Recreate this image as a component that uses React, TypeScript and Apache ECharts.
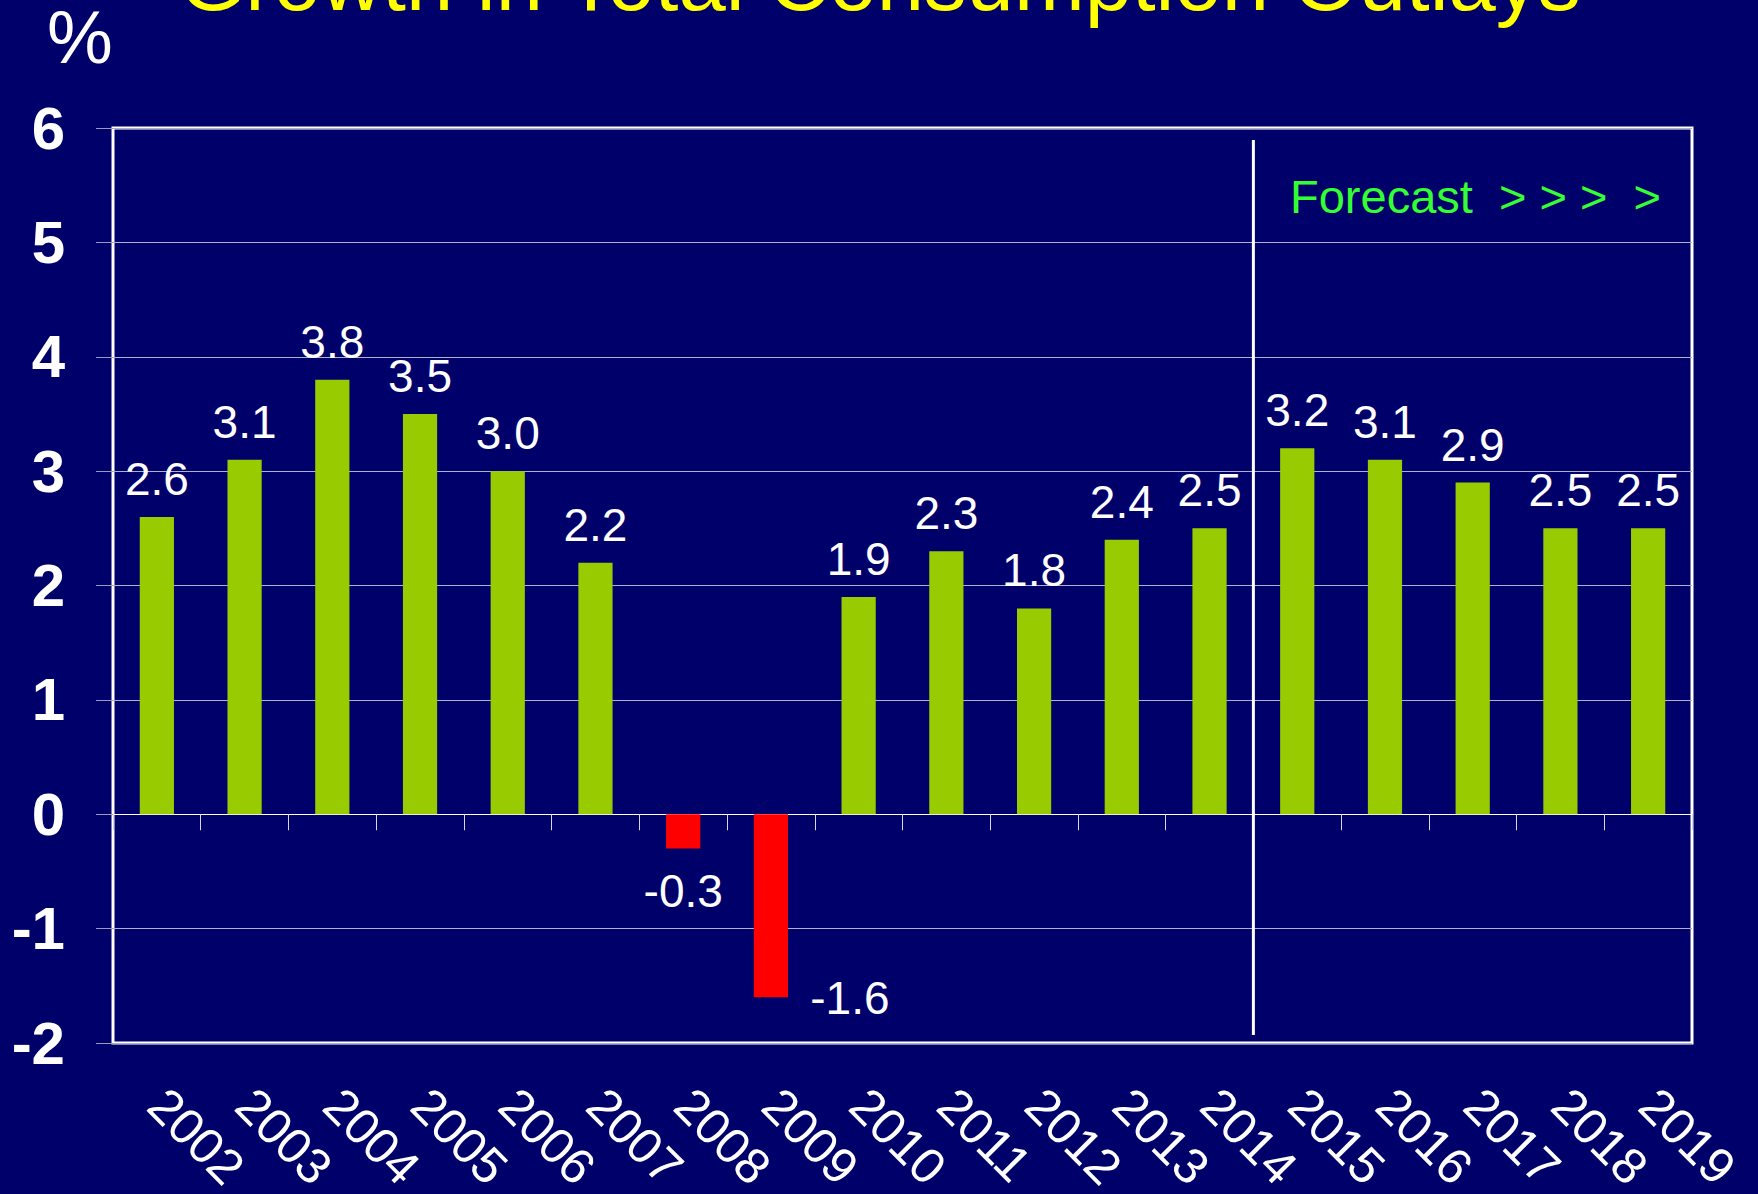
import React, { useEffect, useRef } from "react";
import * as echarts from "echarts";

const years = ["2002","2003","2004","2005","2006","2007","2008","2009","2010","2011","2012","2013","2014","2015","2016","2017","2018","2019"];
const growth = [2.6, 3.1, 3.8, 3.5, 3.0, 2.2, -0.3, -1.6, 1.9, 2.3, 1.8, 2.4, 2.5, 3.2, 3.1, 2.9, 2.5, 2.5];
const forecastStartIndex = 13;
const titleText = "Growth in Total Consumption Outlays";
const unitText = "%";
const forecastText = "Forecast  > > >  >";

const W = 1758;
const H = 1194;
const FONT = "'Liberation Sans', Arial, Helvetica, sans-serif";
const BG = "#00006b";
const GREEN = "#99cc00";
const RED = "#ff0000";

const GRID = { left: 113, top: 128, right: 66, bottom: 151 };

export default function App() {
  const ref = useRef<HTMLDivElement>(null);
  useEffect(() => {
    if (!ref.current) return;
    const chart = echarts.init(ref.current, null, { renderer: "svg", width: W, height: H });
    const plotW = W - GRID.left - GRID.right;
    const dividerX = GRID.left + (forecastStartIndex * plotW) / years.length;

    const data = growth.map((v, i) => {
      const item: any = {
        value: v,
        itemStyle: { color: v < 0 ? RED : GREEN },
      };
      if (v < 0) {
        item.label = i === 7
          ? { position: "inside", offset: [79, 92] }
          : { position: "inside", offset: [0, 60] };
      }
      return item;
    });

    chart.setOption({
      animation: false,
      backgroundColor: BG,
      grid: {
        ...GRID,
        show: true,
        borderColor: "#ffffff",
        borderWidth: 3,
        backgroundColor: "transparent",
        containLabel: false,
        outerBoundsMode: "none",
      },
      xAxis: [
        {
          type: "category",
          data: years,
          position: "bottom",
          axisLine: { show: true, onZero: true, lineStyle: { color: "#ffffff", width: 1 } },
          axisTick: { show: true, length: 16, lineStyle: { color: "#d8d8e8", width: 1 } },
          axisLabel: { show: false },
          splitLine: { show: false },
        },
        {
          type: "category",
          data: years,
          position: "bottom",
          axisLine: { show: false, onZero: false },
          axisTick: { show: false },
          axisLabel: {
            show: true,
            interval: 0,
            rotate: -45,
            margin: 54,
            color: "#ffffff",
            fontSize: 50,
            lineHeight: 40,
            fontFamily: FONT,
          },
          splitLine: { show: false },
        },
      ],
      yAxis: {
        type: "value",
        min: -2,
        max: 6,
        interval: 1,
        axisLine: { show: false },
        axisTick: { show: true, length: 17, lineStyle: { color: "#9a9abf", width: 1 } },
        splitLine: { show: true, lineStyle: { color: "#b0b0c8", width: 1 } },
        axisLabel: {
          color: "#ffffff",
          fontSize: 60,
          fontWeight: "bold",
          fontFamily: FONT,
          margin: 48,
        },
      },
      series: [
        {
          type: "bar",
          xAxisIndex: 0,
          data,
          barWidth: "39%",
          label: {
            show: true,
            position: "top",
            distance: 15,
            color: "#ffffff",
            fontSize: 46,
            fontFamily: FONT,
            formatter: (p: any) => Number(p.value).toFixed(1),
          },
        },
      ],
      graphic: [
        {
          type: "text",
          x: 880,
          y: -20,
          style: {
            text: titleText,
            fill: "#ffff00",
            font: `85px ${FONT}`,
            align: "center",
            verticalAlign: "middle",
          },
        },
        {
          type: "text",
          x: 80,
          y: 37,
          style: {
            text: unitText,
            fill: "#ffffff",
            font: `74px ${FONT}`,
            lineHeight: 60,
            align: "center",
            verticalAlign: "middle",
          },
        },
        {
          type: "text",
          x: 1290,
          y: 196,
          style: {
            text: forecastText,
            fill: "#33ff33",
            font: `47px ${FONT}`,
            align: "left",
            verticalAlign: "middle",
          },
        },
        {
          type: "line",
          shape: { x1: dividerX, y1: 140, x2: dividerX, y2: 1035 },
          style: { stroke: "#ffffff", lineWidth: 3 },
          z: 100,
        },
      ],
    });
    return () => chart.dispose();
  }, []);
  return (
    <div
      ref={ref}
      style={{ position: "absolute", left: 0, top: 0, width: W, height: H }}
    />
  );
}
